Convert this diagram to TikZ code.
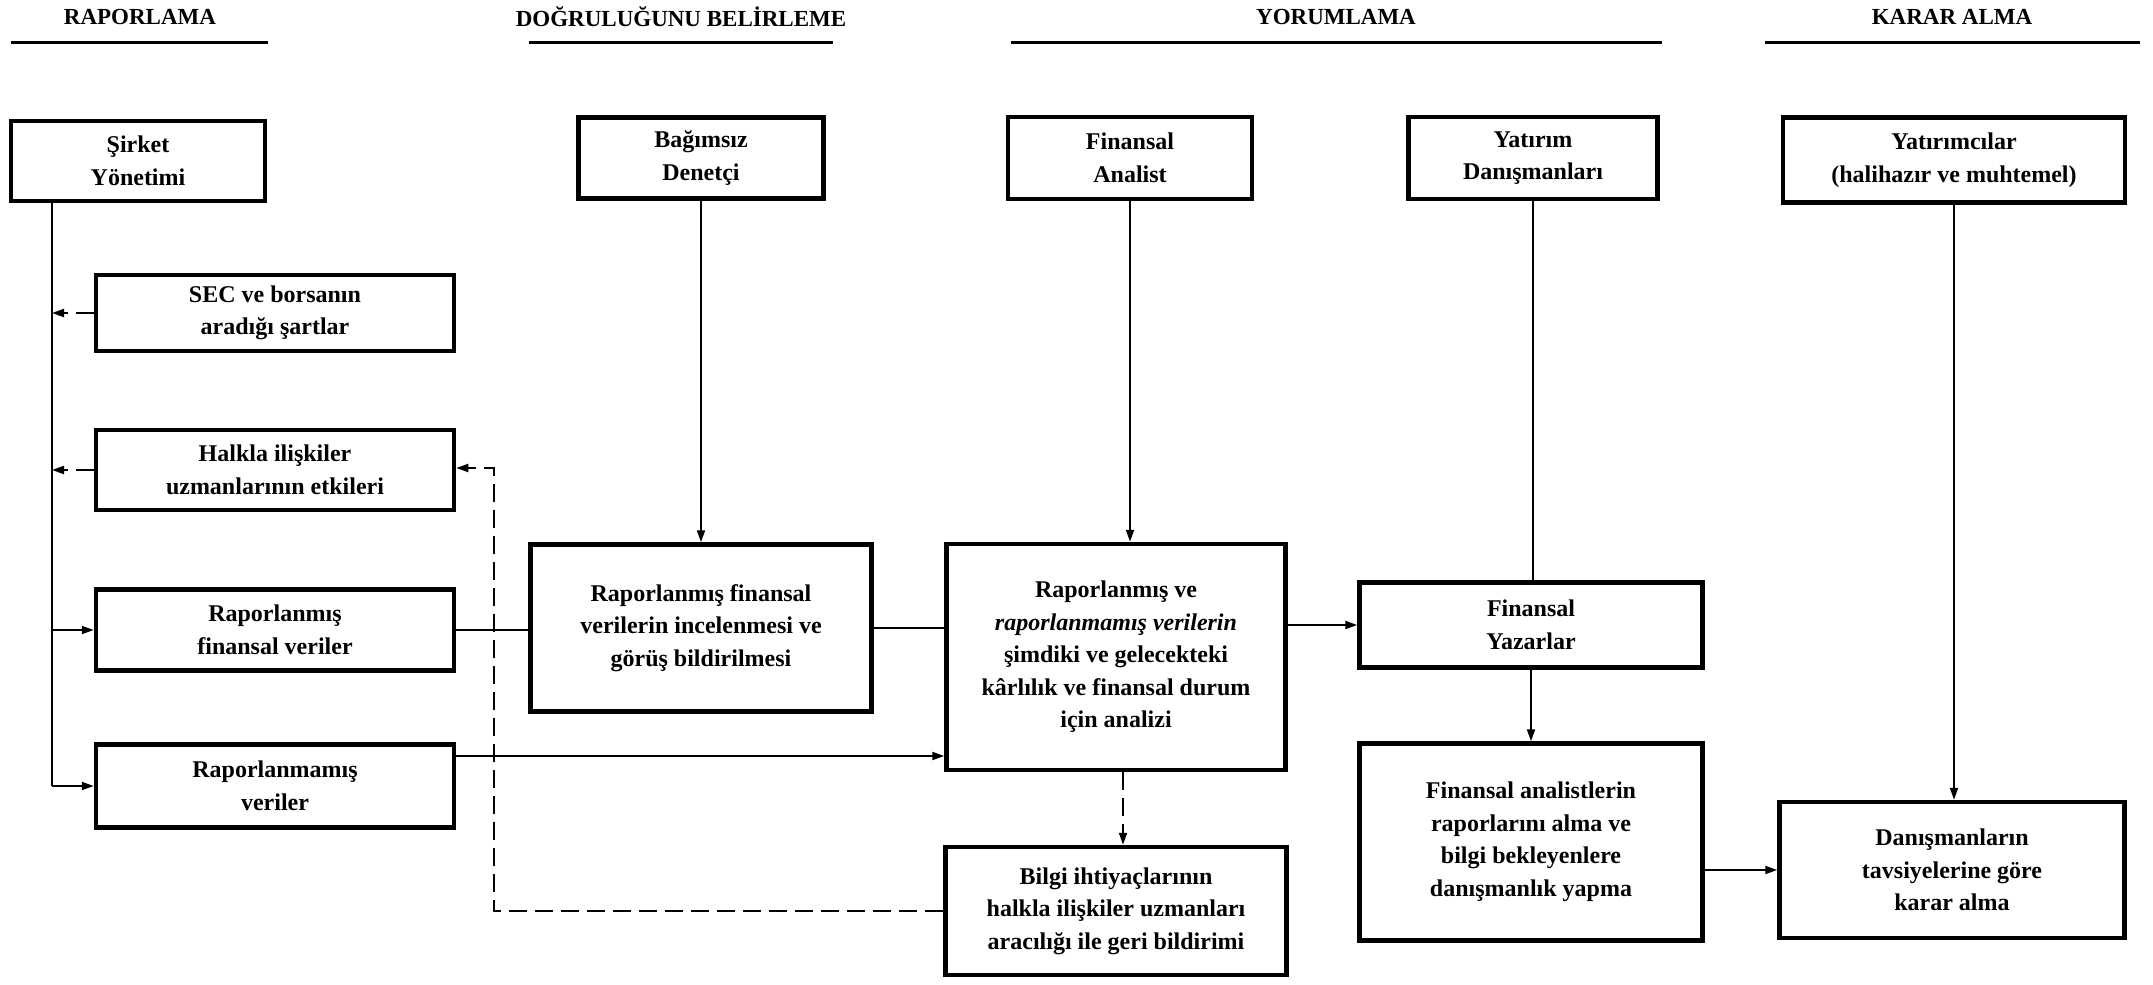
\documentclass[tikz,border=0pt]{standalone}
\usepackage{fontspec}
\setmainfont{Liberation Serif}
\usetikzlibrary{arrows.meta}
\begin{document}
\begin{tikzpicture}[x=1pt,y=-1pt,
  box/.style={draw,line width=4.5pt,align=center,inner sep=0pt,font=\fontsize{24}{32.5}\selectfont\bfseries},
  hdr/.style={font=\fontsize{23}{27}\selectfont\bfseries},
  uline/.style={line width=3pt},
  conn/.style={line width=2pt},
  arr/.style={conn,-{Triangle[length=12pt,width=8pt]}},
  dsh/.style={dash pattern=on 18pt off 8pt}
]
\useasboundingbox (0,0) rectangle (2153,985);
% headers
\node[hdr] (h1) at (140,17) {RAPORLAMA};
\node[hdr] (h2) at (681,17) {DOĞRULUĞUNU BELİRLEME};
\node[hdr] (h3) at (1336,17) {YORUMLAMA};
\node[hdr] (h4) at (1952,17) {KARAR ALMA};
\coordinate (u1a) at (11,42); \coordinate (u1b) at (268,42);
\coordinate (u2a) at (529,42); \coordinate (u2b) at (833,42);
\coordinate (u3a) at (1011,42); \coordinate (u3b) at (1662,42);
\coordinate (u4a) at (1765,42); \coordinate (u4b) at (2140,42);
\draw[uline] (u1a) -- (u1b);
\draw[uline] (u2a) -- (u2b);
\draw[uline] (u3a) -- (u3b);
\draw[uline] (u4a) -- (u4b);
% boxes
\node[box,minimum width=254pt,minimum height=80pt] (sirket) at (138,161) {Şirket\\Yönetimi};
\node[box,minimum width=358pt,minimum height=76pt] (sec) at (275,313) {SEC ve borsanın\\aradığı şartlar};
\node[box,minimum width=358pt,minimum height=80pt] (halkla) at (275,470) {Halkla ilişkiler\\uzmanlarının etkileri};
\node[box,minimum width=358pt,minimum height=81pt] (rfv) at (275,630) {Raporlanmış\\finansal veriler};
\node[box,minimum width=358pt,minimum height=83pt] (ruv) at (275,786) {Raporlanmamış\\veriler};
\node[box,minimum width=245pt,minimum height=81pt] (den) at (701,158) {Bağımsız\\Denetçi};
\node[box,minimum width=341pt,minimum height=167pt] (inc) at (701,628) {Raporlanmış finansal\\verilerin incelenmesi ve\\görüş bildirilmesi};
\node[box,minimum width=244pt,minimum height=82pt] (fa) at (1130,158) {Finansal\\Analist};
\node[box,minimum width=339pt,minimum height=226pt] (ana) at (1116,657) {Raporlanmış ve\\\textit{raporlanmamış verilerin}\\şimdiki ve gelecekteki\\kârlılık ve finansal durum\\için analizi};
\node[box,minimum width=341pt,minimum height=128pt] (bilgi) at (1116,911) {Bilgi ihtiyaçlarının\\halkla ilişkiler uzmanları\\aracılığı ile geri bildirimi};
\node[box,minimum width=249pt,minimum height=82pt] (yd) at (1533,158) {Yatırım\\Danışmanları};
\node[box,minimum width=343pt,minimum height=85pt] (fy) at (1531,625) {Finansal\\Yazarlar};
\node[box,minimum width=343pt,minimum height=197pt] (fal) at (1531,842) {Finansal analistlerin\\raporlarını alma ve\\bilgi bekleyenlere\\danışmanlık yapma};
\node[box,minimum width=342pt,minimum height=85pt] (yat) at (1954,160) {Yatırımcılar\\(halihazır ve muhtemel)};
\node[box,minimum width=345pt,minimum height=136pt] (dan) at (1952,870) {Danışmanların\\tavsiyelerine göre\\karar alma};
% left trunk
\coordinate (tx) at (52,0);
\draw[conn] (sirket.south -| tx) -- (ruv.west -| tx);
\draw[arr,dsh] (sec.west) -- (sec.west -| tx);
\draw[arr,dsh] (halkla.west) -- (halkla.west -| tx);
\draw[arr] (rfv.west -| tx) -- (rfv.west);
\draw[arr] (ruv.west -| tx) -- (ruv.west);
% middle
\draw[conn] (rfv.east) -- (rfv.east -| inc.west);
\draw[conn] (inc.east) -- (inc.east -| ana.west);
\coordinate (r2) at ([yshift=30pt]ruv.east);
\draw[arr] (r2) -- (r2 -| ana.west);
\draw[arr] (den.south) -- (inc.north);
\draw[arr] (fa.south) -- (fa.south |- ana.north);
\draw[arr,dsh] ([xshift=7pt]ana.south) -- ([xshift=7pt]bilgi.north);
\draw[arr] (ana.east |- fy.west) -- (fy.west);
% right
\draw[conn] (yd.south) -- (yd.south |- fy.north);
\draw[arr] (fy.south) -- (fy.south |- fal.north);
\draw[arr] (fal.east |- dan.west) -- (dan.west);
\draw[arr] (yat.south) -- (yat.south |- dan.north);
% feedback loop
\coordinate (lx) at (494,0);
\draw[arr,dsh] (bilgi.west) -- (bilgi.west -| lx) -- ([yshift=2pt]halkla.east -| lx) -- ([yshift=2pt]halkla.east);
\end{tikzpicture}
\end{document}
